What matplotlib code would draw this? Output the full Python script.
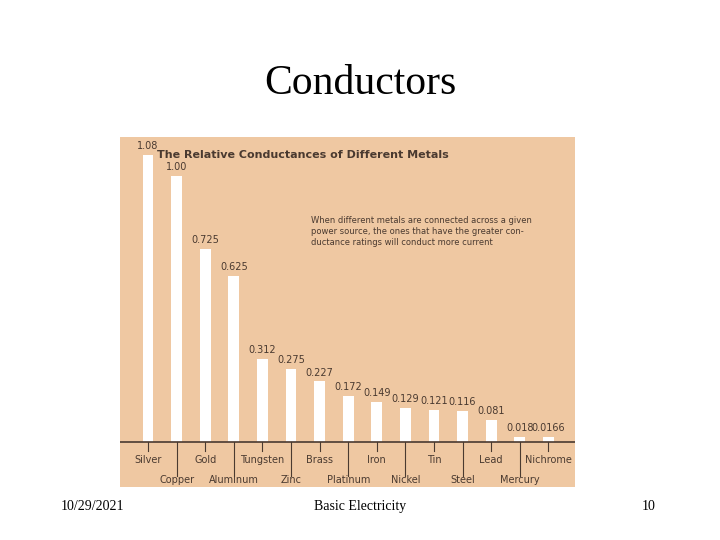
import matplotlib.pyplot as plt

metals = ['Silver', 'Copper', 'Gold', 'Aluminum', 'Tungsten', 'Zinc', 'Brass', 'Platinum',
          'Iron', 'Nickel', 'Tin', 'Steel', 'Lead', 'Mercury', 'Nichrome']
conductance = [1.08, 1.00, 0.725, 0.625, 0.312, 0.275, 0.227, 0.172,
               0.149, 0.129, 0.121, 0.116, 0.081, 0.018, 0.0166]
value_labels = ['1.08', '1.00', '0.725', '0.625', '0.312', '0.275', '0.227', '0.172',
                '0.149', '0.129', '0.121', '0.116', '0.081', '0.018', '0.0166']

fig = plt.figure(figsize=(7.2, 5.4), dpi=100)
fig.patch.set_facecolor('white')
fig.text(0.5, 0.825, 'Conductors', ha='center', fontsize=30, family='Liberation Serif')
fig.text(0.085, 0.055, '10/29/2021', fontsize=10, family='Liberation Serif')
fig.text(0.5, 0.055, 'Basic Electricity', ha='center', fontsize=10, family='Liberation Serif')
fig.text(0.91, 0.055, '10', ha='right', fontsize=10, family='Liberation Serif')

ink = '#4a3a30'
ax = fig.add_axes([120 / 720, 1 - 487 / 540, 455 / 720, 350 / 540])
ax.set_facecolor('#efc8a2')
x = list(range(len(metals)))
ax.bar(x, conductance, width=0.38, color='white')
for i, (v, lab) in enumerate(zip(conductance, value_labels)):
    ax.text(i, v + 0.015, lab, ha='center', va='bottom', fontsize=7, color=ink,
            family='DejaVu Sans Condensed')
    if i % 2 == 0:
        ax.plot([i, i], [0, -0.035], color=ink, lw=0.8)
        ax.text(i, -0.07, metals[i], ha='center', va='center', fontsize=7, color=ink,
                family='DejaVu Sans Condensed')
    else:
        ax.plot([i, i], [0, -0.13], color=ink, lw=0.8)
        ax.text(i, -0.145, metals[i], ha='center', va='center', fontsize=7, color=ink,
                family='DejaVu Sans Condensed')
ax.axhline(0, color=ink, lw=1.2)
ax.text(0.3, 1.08, 'The Relative Conductances of Different Metals', transform=ax.transData,
        fontsize=8, fontweight='bold', color=ink, va='center')
ax.text(5.7, 0.79, 'When different metals are connected across a given\n'
        'power source, the ones that have the greater con-\n'
        'ductance ratings will conduct more current',
        fontsize=6, color=ink, va='center', linespacing=1.3)
ax.set_xlim(-0.98, 14.93)
ax.set_ylim(-0.17, 1.147)
ax.axis('off')
ax.add_patch(plt.Rectangle((0, 0), 1, 1, transform=ax.transAxes, color='#efc8a2', zorder=-1))

fig.savefig('out.png', dpi=100)
